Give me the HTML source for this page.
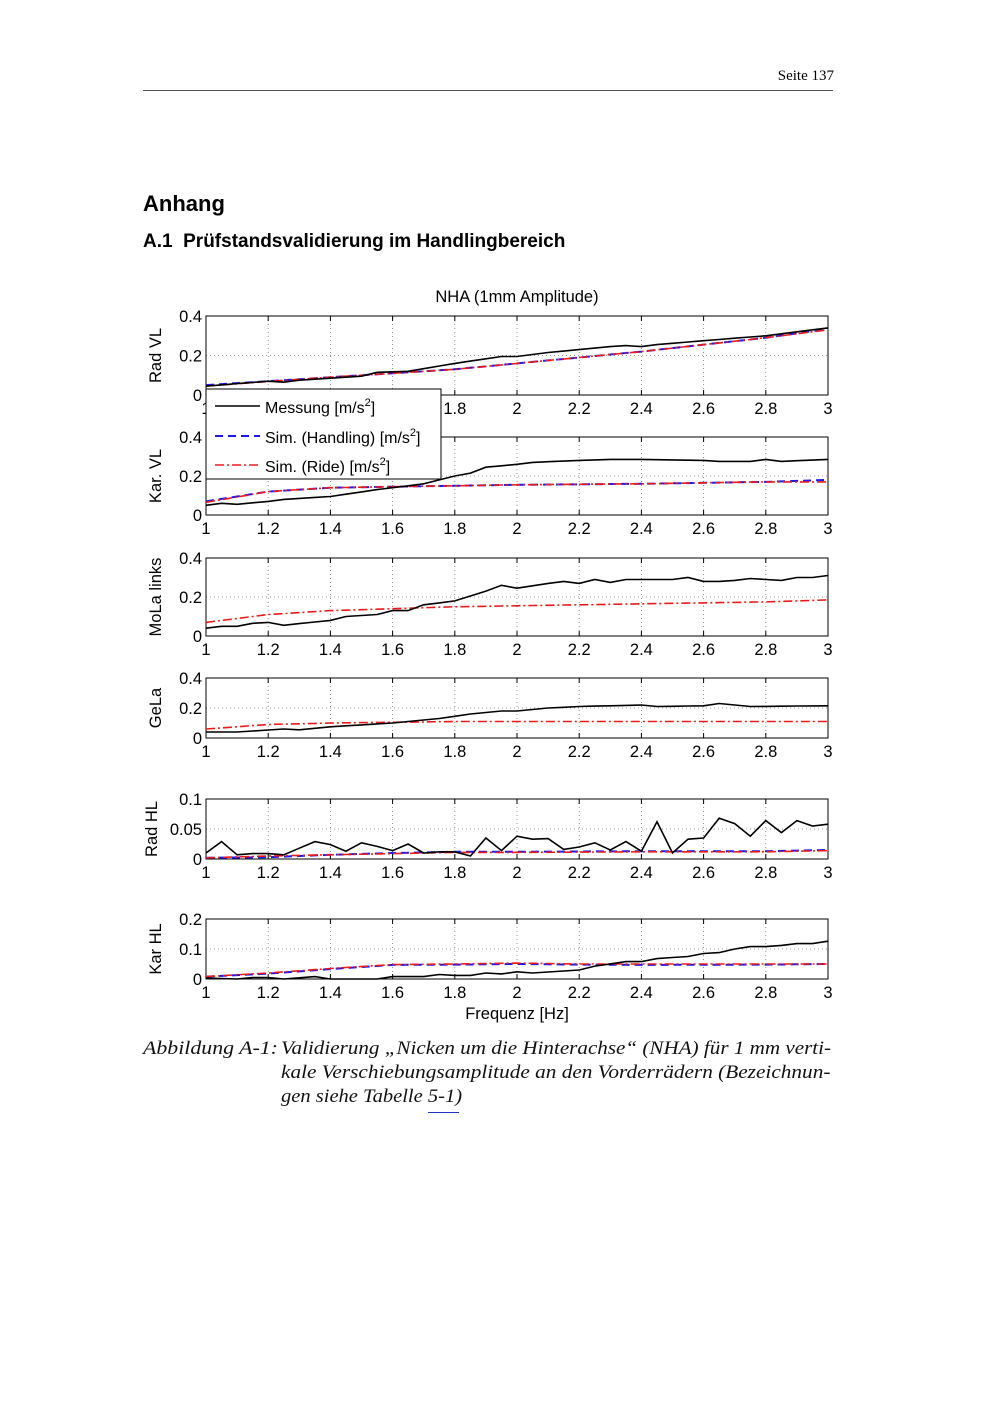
<!DOCTYPE html>
<html><head><meta charset="utf-8"><style>
body{margin:0;background:#fff;}
#pg{position:relative;width:1000px;height:1414px;background:#fff;overflow:hidden;}
.t{position:absolute;white-space:nowrap;}
.cap{font-family:"Liberation Serif",serif;font-style:italic;font-size:19px;color:#111;transform-origin:0 0;}
</style></head><body><div id="pg">
<div class="t" style="right:166px;top:68px;font-family:'Liberation Serif',serif;font-size:15px;">Seite 137</div>
<div style="position:absolute;left:143px;top:90px;width:690px;height:1px;background:#555;"></div>
<div class="t" style="left:143px;top:191px;font-family:'Liberation Sans',sans-serif;font-weight:bold;font-size:22px;">Anhang</div>
<div class="t" style="left:143px;top:231px;font-family:'Liberation Sans',sans-serif;font-weight:bold;font-size:19px;">A.1&nbsp; Prüfstandsvalidierung im Handlingbereich</div>
<svg id="sv" width="1000" height="1414" style="position:absolute;left:0;top:0" font-family="Liberation Sans, sans-serif"></svg>
<div class="t cap" style="left:143px;top:1038px;transform:scaleX(1.15);">Abbildung A-1:</div>
<div class="t cap" style="left:281px;top:1038px;transform:scaleX(1.11);">Validierung „Nicken um die Hinterachse“ (NHA) für 1 mm verti-</div>
<div class="t cap" style="left:281px;top:1062px;transform:scaleX(1.12);">kale Verschiebungsamplitude an den Vorderrädern (Bezeichnun-</div>
<div class="t cap" style="left:281px;top:1086px;transform:scaleX(1.08);">gen siehe Tabelle 5-1)</div>
<div style="position:absolute;left:428px;top:1112px;width:31px;height:1px;background:#2233cc;"></div>
</div>
<script>
var X0=206,X1=828;
function xs(f){return X0+(f-1)/2*(X1-X0);}
function interp(k){var out=[];for(var i=0;i<=40;i++){var f=1+i*0.05;for(var j=0;j<k.length-1;j++){if(f>=k[j][0]-1e-9&&f<=k[j+1][0]+1e-9){var t=(f-k[j][0])/(k[j+1][0]-k[j][0]);out.push([f,k[j][1]+t*(k[j+1][1]-k[j][1])]);break;}}}return out;}
var P=[
{top:316,bot:395,ymax:0.4,ticks:[0,0.2,0.4],lbl:'Rad VL',
m:[[1,.045],[1.2,.07],[1.25,.065],[1.3,.075],[1.5,.095],[1.55,.115],[1.65,.12],[1.8,.16],[1.95,.195],[2,.195],[2.1,.215],[2.3,.245],[2.35,.25],[2.4,.245],[2.45,.255],[2.6,.275],[2.8,.30],[3,.34]],
h:[[1,.05],[1.3,.08],[1.6,.11],[1.8,.13],[2,.16],[2.2,.19],[2.4,.22],[2.6,.255],[2.8,.29],[3,.335]],
r:[[1,.045],[1.3,.08],[1.6,.11],[1.8,.13],[2,.16],[2.2,.19],[2.4,.22],[2.6,.255],[2.8,.29],[3,.33]]},
{top:437,bot:515,ymax:0.4,ticks:[0,0.2,0.4],lbl:'Kar. VL',
m:[[1,.05],[1.05,.06],[1.1,.055],[1.2,.07],[1.25,.08],[1.4,.095],[1.55,.13],[1.7,.16],[1.8,.20],[1.85,.215],[1.9,.245],[2,.26],[2.05,.27],[2.2,.28],[2.3,.285],[2.4,.285],[2.6,.28],[2.65,.275],[2.75,.275],[2.8,.285],[2.85,.275],[3,.285]],
h:[[1,.07],[1.2,.12],[1.4,.14],[1.6,.145],[1.8,.15],[2,.155],[2.4,.16],[2.8,.17],[3,.18]],
r:[[1,.065],[1.2,.12],[1.4,.14],[1.6,.145],[1.8,.15],[2,.155],[2.4,.16],[2.8,.17],[3,.17]]},
{top:558,bot:636,ymax:0.4,ticks:[0,0.2,0.4],lbl:'MoLa links',
m:[[1,.04],[1.05,.05],[1.1,.05],[1.15,.065],[1.2,.07],[1.25,.055],[1.4,.08],[1.45,.1],[1.55,.11],[1.6,.13],[1.65,.13],[1.7,.16],[1.8,.18],[1.9,.23],[1.95,.26],[2,.245],[2.1,.27],[2.15,.28],[2.2,.27],[2.25,.29],[2.3,.275],[2.35,.29],[2.5,.29],[2.55,.30],[2.6,.28],[2.65,.28],[2.7,.285],[2.75,.295],[2.85,.285],[2.9,.30],[2.95,.30],[3,.31]],
h:null,
r:[[1,.07],[1.2,.11],[1.4,.13],[1.6,.14],[1.8,.15],[2,.155],[2.2,.16],[2.4,.165],[2.6,.17],[2.8,.175],[3,.185]]},
{top:678,bot:738,ymax:0.4,ticks:[0,0.2,0.4],lbl:'GeLa',
m:[[1,.04],[1.1,.04],[1.25,.06],[1.3,.055],[1.4,.075],[1.6,.1],[1.75,.13],[1.85,.16],[1.95,.18],[2,.18],[2.1,.2],[2.2,.21],[2.4,.22],[2.45,.21],[2.6,.215],[2.65,.23],[2.75,.21],[3,.215]],
h:null,
r:[[1,.06],[1.2,.09],[1.4,.1],[1.6,.105],[1.8,.11],[3,.11]]},
{top:799,bot:859,ymax:0.1,ticks:[0,0.05,0.1],tl:['0','0.05','0.1'],lbl:'Rad HL',
m:[[1,.01],[1.05,.029],[1.1,.007],[1.15,.009],[1.2,.009],[1.25,.007],[1.3,.018],[1.35,.029],[1.4,.024],[1.45,.013],[1.5,.027],[1.55,.021],[1.6,.014],[1.65,.025],[1.7,.01],[1.75,.012],[1.8,.012],[1.85,.005],[1.9,.035],[1.95,.014],[2,.038],[2.05,.033],[2.1,.034],[2.15,.016],[2.2,.02],[2.25,.027],[2.3,.015],[2.35,.029],[2.4,.013],[2.45,.062],[2.5,.01],[2.55,.033],[2.6,.035],[2.65,.068],[2.7,.059],[2.75,.038],[2.8,.064],[2.85,.044],[2.9,.064],[2.95,.055],[3,.058]],
h:[[1,.002],[1.2,.003],[1.4,.007],[1.6,.01],[1.8,.012],[2,.012],[2.4,.013],[2.8,.013],[3,.015]],
r:[[1,.002],[1.2,.005],[1.4,.007],[1.6,.009],[1.8,.011],[2,.011],[2.4,.012],[2.8,.012],[3,.014]]},
{top:919,bot:979,ymax:0.2,ticks:[0,0.1,0.2],lbl:'Kar HL',
m:[[1,.003],[1.1,0],[1.15,.005],[1.2,.005],[1.25,0],[1.35,.008],[1.4,0],[1.55,0],[1.6,.008],[1.7,.008],[1.75,.015],[1.8,.012],[1.85,.012],[1.9,.02],[1.95,.017],[2,.024],[2.05,.02],[2.2,.03],[2.25,.043],[2.35,.058],[2.4,.058],[2.45,.068],[2.55,.075],[2.6,.085],[2.65,.088],[2.7,.1],[2.75,.108],[2.8,.108],[2.85,.112],[2.9,.118],[2.95,.118],[3,.126]],
h:[[1,.008],[1.2,.018],[1.4,.033],[1.6,.047],[1.8,.048],[2,.05],[2.2,.048],[2.4,.047],[2.8,.048],[3,.05]],
r:[[1,.008],[1.2,.02],[1.4,.035],[1.6,.048],[1.8,.05],[2,.053],[2.2,.05],[2.4,.05],[2.8,.05],[3,.05]]}
];
var s='';
s+='<text x="517" y="302" font-size="16.5" text-anchor="middle">NHA (1mm Amplitude)</text>';
P.forEach(function(p,pi){
 var ys=function(v){return p.bot-(v/p.ymax)*(p.bot-p.top);};
 var mid=(p.top+p.bot)/2;
 for(var f=1.2;f<2.99;f+=0.2){var x=xs(f);s+='<line x1="'+x+'" y1="'+p.top+'" x2="'+x+'" y2="'+p.bot+'" stroke="#777" stroke-width="0.8" stroke-dasharray="1,3"/>';
  s+='<line x1="'+x+'" y1="'+p.bot+'" x2="'+x+'" y2="'+(p.bot-5)+'" stroke="#000"/><line x1="'+x+'" y1="'+p.top+'" x2="'+x+'" y2="'+(p.top+5)+'" stroke="#000"/>';}
 var my=ys(p.ticks[1]);
 s+='<line x1="'+X0+'" y1="'+my+'" x2="'+X1+'" y2="'+my+'" stroke="#777" stroke-width="0.8" stroke-dasharray="1,3"/>';
 s+='<rect x="'+X0+'" y="'+p.top+'" width="'+(X1-X0)+'" height="'+(p.bot-p.top)+'" fill="none" stroke="#000" stroke-width="1"/>';
 p.ticks.forEach(function(t,i){var y=ys(t);var lab=p.tl?p.tl[i]:String(t);
  s+='<text x="'+(X0-4)+'" y="'+(y+6)+'" font-size="16.5" text-anchor="end">'+lab+'</text>';});
 for(var i=0;i<=10;i++){var f=1+i*0.2;var lab=(i==0?'1':(i==10?'3':(i==5?'2':f.toFixed(1))));
  s+='<text x="'+xs(f)+'" y="'+(p.bot+19)+'" font-size="16.5" text-anchor="middle">'+lab+'</text>';}
 var lx=p.lbl=='Rad HL'?157:161;
 s+='<text transform="translate('+lx+','+mid+') rotate(-90)" font-size="16.5" text-anchor="middle">'+p.lbl+'</text>';
 function pl(k,st){var d=interp(k).map(function(q){return xs(q[0]).toFixed(1)+','+ys(q[1]).toFixed(1);}).join(' ');s+='<polyline points="'+d+'" fill="none" '+st+'/>';}
 if(p.h)pl(p.h,'stroke="#1a1aee" stroke-width="2" stroke-dasharray="8,5"');
 pl(p.r,'stroke="#ee1a1a" stroke-width="1.6" stroke-dasharray="9,3,2,3"');
 pl(p.m,'stroke="#000" stroke-width="1.6"');
});
s+='<text x="517" y="1019" font-size="16.5" text-anchor="middle">Frequenz [Hz]</text>';
s+='<rect x="206" y="389" width="235" height="90" fill="#fff" stroke="#000" stroke-width="1"/>';
s+='<line x1="215" y1="406" x2="260" y2="406" stroke="#000" stroke-width="1.5"/>';
s+='<text x="265" y="413" font-size="16">Messung [m/s<tspan dy="-7" font-size="11">2</tspan><tspan dy="7">]</tspan></text>';
s+='<line x1="215" y1="436" x2="260" y2="436" stroke="#1a1aee" stroke-width="2" stroke-dasharray="8,5"/>';
s+='<text x="265" y="443" font-size="16">Sim. (Handling) [m/s<tspan dy="-7" font-size="11">2</tspan><tspan dy="7">]</tspan></text>';
s+='<line x1="215" y1="465" x2="260" y2="465" stroke="#ee1a1a" stroke-width="1.5" stroke-dasharray="9,3,2,3"/>';
s+='<text x="265" y="472" font-size="16">Sim. (Ride) [m/s<tspan dy="-7" font-size="11">2</tspan><tspan dy="7">]</tspan></text>';
document.getElementById('sv').innerHTML=s;
</script>
</body></html>
